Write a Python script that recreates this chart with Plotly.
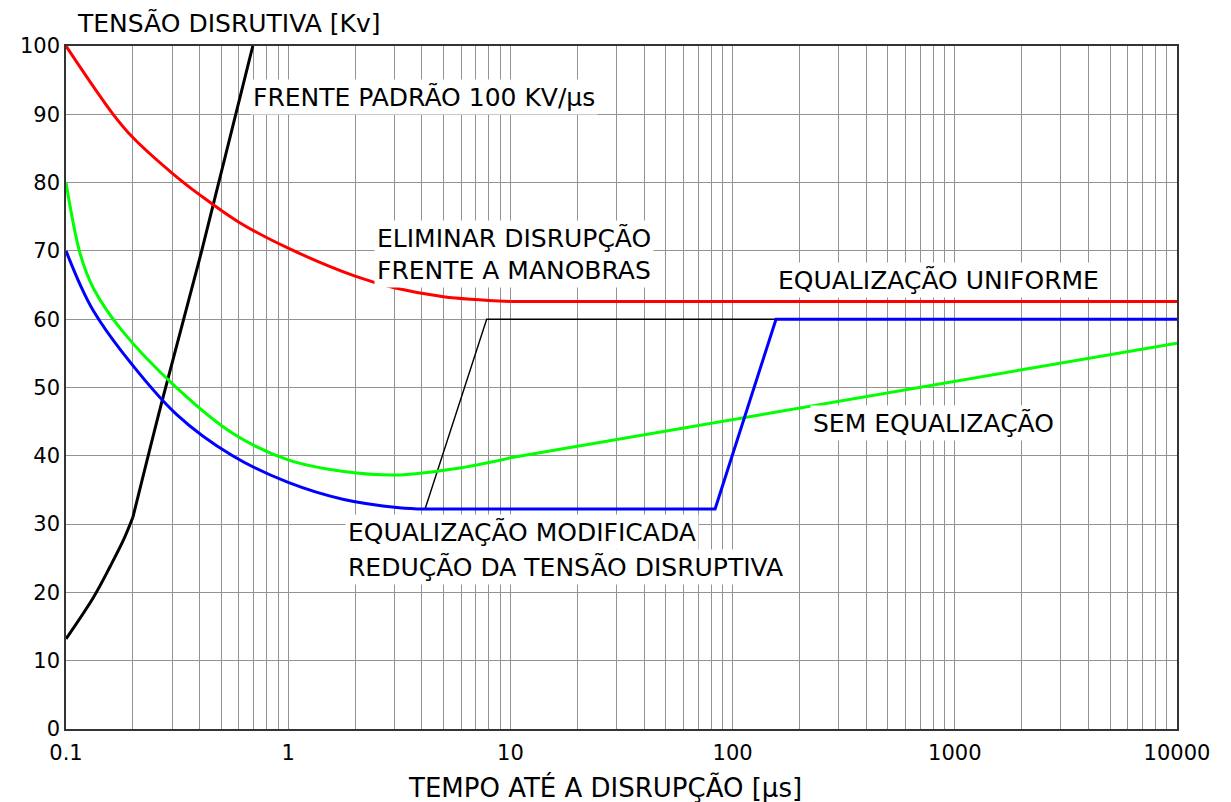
import plotly.graph_objects as go

# ---------------- data ----------------
red_curve_x = [0.1, 0.163, 0.2, 0.3, 0.4, 0.6, 1, 2, 3, 5, 10]
red_curve_y = [100, 90.0, 86.6, 81.4, 78.2, 74.2, 70.4, 66.3, 64.6, 63.3, 62.6]
red_flat_x = [10, 10000]
red_flat_y = [62.6, 62.6]

green_curve_x = [0.1, 0.116, 0.133, 0.178, 0.316, 0.562, 1, 1.78, 3.16, 5.62, 10]
green_curve_y = [80, 69.5, 64.5, 58.4, 49.9, 43.3, 39.4, 37.7, 37.2, 38.1, 39.7]
green_line_x = [10, 100, 1000, 10000]
green_line_y = [39.7, 45.3, 50.9, 56.5]

blue_curve_x = [0.1, 0.116, 0.133, 0.178, 0.316, 0.562, 1, 1.78, 3.16, 4.13]
blue_curve_y = [70, 65.0, 61.2, 55.3, 46.0, 40.0, 36.1, 33.6, 32.4, 32.2]
blue_line_x = [4.13, 83.4, 156.8, 10000]
blue_line_y = [32.2, 32.2, 60, 60]

black_low_x = [0.1, 0.133, 0.158, 0.181, 0.2]
black_low_y = [13.2, 19.3, 23.8, 27.6, 31.0]
black_front_x = [0.2, 0.27, 0.408, 0.693]
black_front_y = [31.0, 47.9, 70.0, 100]

thin_x = [4.13, 7.82, 156.8]
thin_y = [32.2, 60, 60]

x_tick_vals = [0.1, 1, 10, 100, 1000, 10000]
x_tick_text = ["0.1", "1", "10", "100", "1000", "10000"]
y_tick_vals = [0, 10, 20, 30, 40, 50, 60, 70, 80, 90, 100]
minor_x = [m * d for d in [0.1, 1, 10, 100, 1000] for m in range(2, 10)]

FONT = "DejaVu Sans"
RED, GREEN, BLUE, BLACK = "#ff0000", "#00ff00", "#0000ff", "#000000"

fig = go.Figure()

def add(x, y, color, width, spline=False):
    fig.add_trace(go.Scatter(
        x=x, y=y, mode="lines",
        line=dict(color=color, width=width, shape="spline" if spline else "linear", smoothing=1.0),
        showlegend=False, hoverinfo="skip"))

add(thin_x, thin_y, BLACK, 1.4)
add(black_low_x, black_low_y, BLACK, 3, True)
add(black_front_x, black_front_y, BLACK, 3, True)
add(red_curve_x, red_curve_y, RED, 3, True)
add(red_flat_x, red_flat_y, RED, 3)
add(green_curve_x, green_curve_y, GREEN, 3, True)
add(green_line_x, green_line_y, GREEN, 3)
add(blue_curve_x, blue_curve_y, BLUE, 3, True)
add(blue_line_x, blue_line_y, BLUE, 3)

GRID = "#939393"
fig.update_xaxes(
    type="log", range=[-1, 4],
    tickmode="array", tickvals=x_tick_vals, ticktext=x_tick_text,
    showgrid=True, gridcolor=GRID, gridwidth=1,
    minor=dict(tickmode="array", tickvals=minor_x, showgrid=True, gridcolor=GRID, gridwidth=1),
    showline=True, linecolor="#333333", linewidth=1.5, mirror=True,
    ticks="", zeroline=False, ticklabelstandoff=4,
    tickfont=dict(family=FONT, size=21, color=BLACK),
)
fig.update_yaxes(
    range=[0, 100], tickmode="array", tickvals=y_tick_vals,
    showgrid=True, gridcolor=GRID, gridwidth=1,
    showline=True, linecolor="#333333", linewidth=1.5, mirror=True,
    ticks="", zeroline=False,
    tickfont=dict(family=FONT, size=21, color=BLACK),
)

L, R, T, B = 66, 1177, 46, 729
def px(xp):
    return (xp - L) / (R - L)
def py(yp):
    return (B - yp) / (B - T)

labels = [
    ("FRENTE PADRÃO 100 KV/µs", 250, 97),
    ("ELIMINAR DISRUPÇÃO", 374, 238),
    ("FRENTE A MANOBRAS", 374, 270),
    ("EQUALIZAÇÃO UNIFORME", 775, 280),
    ("SEM EQUALIZAÇÃO", 810, 423),
    ("EQUALIZAÇÃO MODIFICADA", 345, 532),
    ("REDUÇÃO DA TENSÃO DISRUPTIVA", 345, 567),
]
for text, xp, yp in labels:
    fig.add_annotation(
        text=text, xref="paper", yref="paper", x=px(xp), y=py(yp),
        xanchor="left", yanchor="middle", showarrow=False,
        bgcolor="white", borderpad=2,
        font=dict(family=FONT, size=25, color=BLACK))

fig.add_annotation(
    text="TENSÃO DISRUTIVA [Kv]", xref="paper", yref="paper",
    x=px(75), y=py(23), xanchor="left", yanchor="middle", showarrow=False,
    font=dict(family=FONT, size=25, color=BLACK))
fig.add_annotation(
    text="TEMPO ATÉ A DISRUPÇÃO [µs]", xref="paper", yref="paper",
    x=px(605), y=py(787), xanchor="center", yanchor="middle", showarrow=False,
    font=dict(family=FONT, size=26, color=BLACK))

fig.update_layout(
    width=1231, height=802,
    margin=dict(l=L, r=1231 - R, t=T, b=802 - B),
    paper_bgcolor="white", plot_bgcolor="white",
    font=dict(family=FONT, color=BLACK),
)

fig.write_html(
    "out.html",
    config={"displayModeBar": False},
    post_script="document.body.style.margin='0';document.body.style.overflow='hidden';",
)
